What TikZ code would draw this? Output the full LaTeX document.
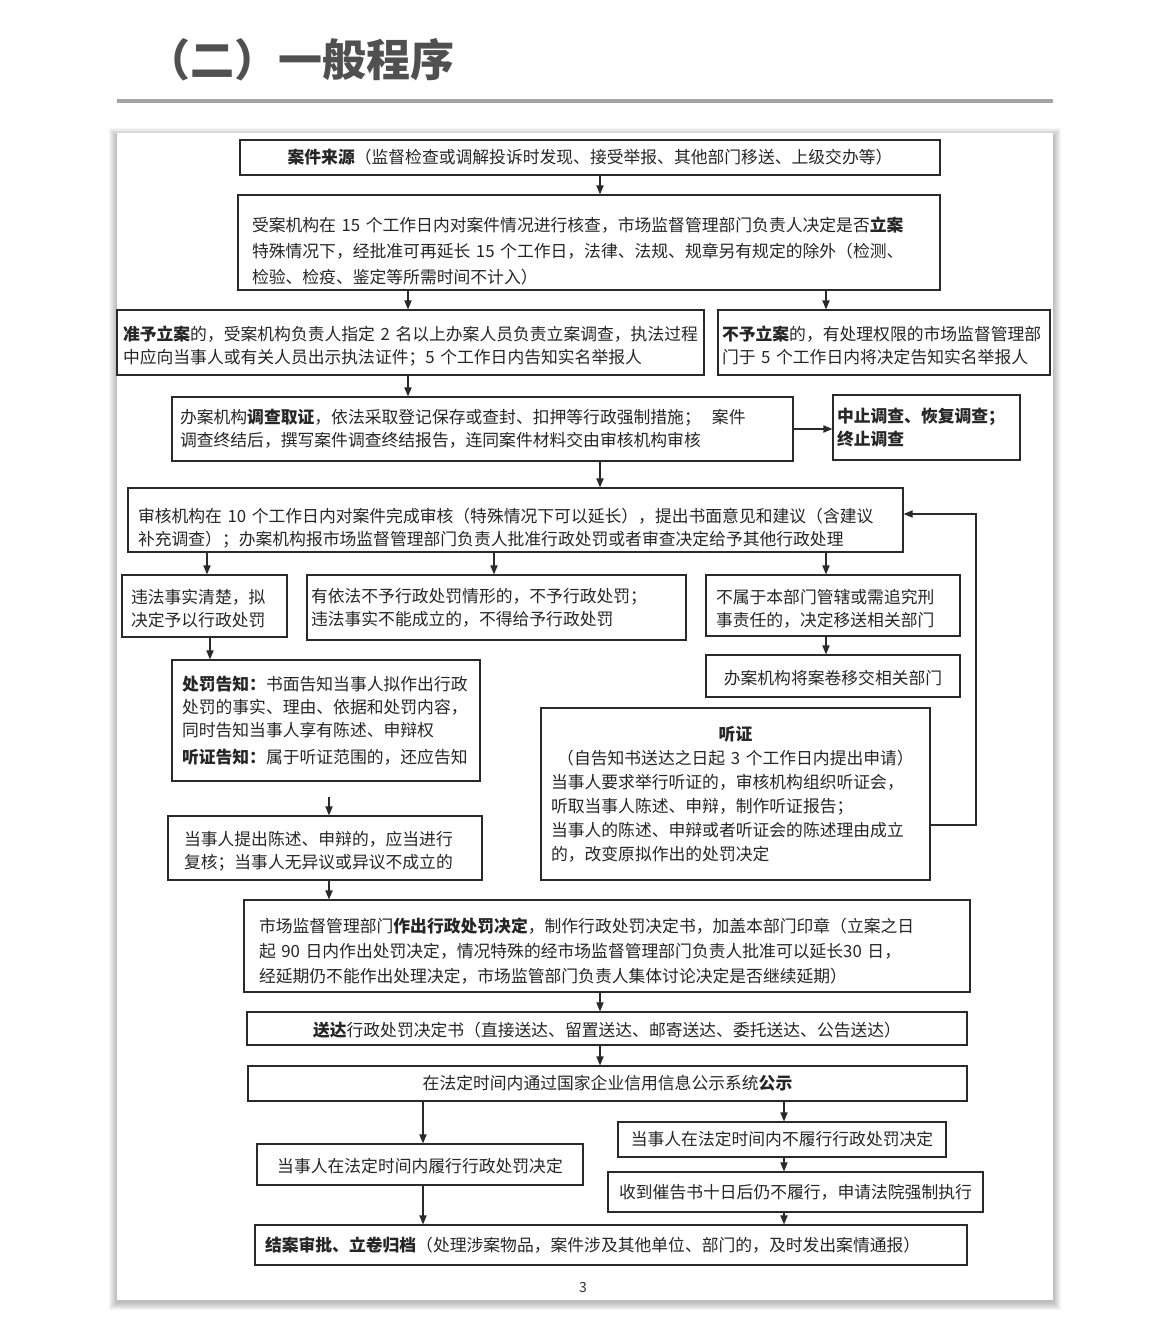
\documentclass[tikz,border=0pt]{standalone}
\usepackage{fontspec}
\setmainfont{Noto Sans CJK SC}
\usetikzlibrary{arrows.meta}
\definecolor{titlegray}{HTML}{505050}
\definecolor{rulegray}{HTML}{A5A5A5}
\definecolor{linegray}{HTML}{2A2A2A}
\tikzset{
  box/.style={draw=linegray, line width=0.6pt, align=left, text=black!85,
    font=\fontsize{8.4}{11.5}\selectfont, inner ysep=2pt},
  arr/.style={draw=linegray, line width=0.6pt, -{Triangle[length=4.5pt,width=3.6pt]}},
}
\begin{document}
\begin{tikzpicture}[x=0.5pt,y=-0.5pt]
  \useasboundingbox (0,0) rectangle (1170,1317);
  % title
  \node[anchor=west, inner sep=0pt, text=titlegray,
    font=\fontsize{22}{22}\selectfont\bfseries] (title) at (146,60) {（二）一般程序};
  \draw[rulegray, line width=1.6pt] (117,101) -- (1053,101);
  % page with shadow
  \foreach \d in {1,...,8}
    \fill[black, opacity=0.035] (117-\d,133-\d+3) rectangle (1053+\d,1300+\d+2);
  \fill[white] (117,133) rectangle (1053,1300);
  \foreach \x in {207,210,329,408,423,494,600,784,826}
    \coordinate (c\x) at (\x,0);

  % boxes
  \node[box, align=center, minimum width=350pt, minimum height=17.5pt] (src) at (590,157.5)
    {\textbf{案件来源}（监督检查或调解投诉时发现、接受举报、其他部门移送、上级交办等）};
  \node[box, text width=337pt, inner xsep=7pt, minimum height=47.5pt,
    font=\fontsize{8.4}{13}\selectfont] (chk) at (589,242.5)
    {\rule{0pt}{15.4pt}受案机构在~15~个工作日内对案件情况进行核查，市场监督管理部门负责人决定是否\textbf{立案}\\
     特殊情况下，经批准可再延长~15~个工作日，法律、法规、规章另有规定的除外（检测、\\
     检验、检疫、鉴定等所需时间不计入）};
  \node[box, text width=287.5pt, inner xsep=3pt, minimum height=32.5pt] (acc) at (410.5,342.5)
    {\rule{0pt}{11pt}\textbf{准予立案}的，受案机构负责人指定~2~名以上办案人员负责立案调查，执法过程\\
     中应向当事人或有关人员出示执法证件；5~个工作日内告知实名举报人};
  \node[box, text width=162pt, inner xsep=2pt, minimum height=32.5pt] (rej) at (884,342.5)
    {\rule{0pt}{10pt}\textbf{不予立案}的，有处理权限的市场监督管理部\\
     门于~5~个工作日内将决定告知实名举报人};
  \node[box, text width=302.5pt, inner xsep=4pt, minimum height=32pt] (inv) at (482.5,429)
    {办案机构\textbf{调查取证}，依法采取登记保存或查封、扣押等行政强制措施；~~案件\\
     调查终结后，撰写案件调查终结报告，连同案件材料交由审核机构审核};
  \node[box, text width=89.5pt, inner xsep=2pt, minimum height=32.5pt] (sus) at (926.5,427.5)
    {\textbf{中止调查、恢复调查；}\\\textbf{终止调查}};
  \node[box, text width=377.5pt, inner xsep=5pt, minimum height=32pt] (rev) at (515.5,520)
    {\rule{0pt}{15pt}审核机构在~10~个工作日内对案件完成审核（特殊情况下可以延长），提出书面意见和建议（含建议\\
     补充调查）；办案机构报市场监督管理部门负责人批准行政处罚或者审查决定给予其他行政处理};
  \node[box, text width=73.5pt, inner xsep=4.5pt, minimum height=31pt] (pen) at (204.5,606)
    {\rule{0pt}{10pt}违法事实清楚，拟\\决定予以行政处罚};
  \node[box, text width=185.5pt, inner xsep=2pt, minimum height=32.5pt] (nop) at (496.5,607.5)
    {有依法不予行政处罚情形的，不予行政处罚；\\
     违法事实不能成立的，不得给予行政处罚};
  \node[box, text width=117pt, inner xsep=5pt, minimum height=30.5pt] (mov) at (833,605.5)
    {\rule{0pt}{10pt}不属于本部门管辖或需追究刑\\事责任的，决定移送相关部门};
  \node[box, align=center, minimum width=127pt, minimum height=21pt] (hand) at (833,676)
    {\rule{0pt}{9pt}办案机构将案卷移交相关部门};
  \node[box, text width=144pt, inner xsep=5pt, minimum height=60.5pt] (ntc) at (326,720.5)
    {\textbf{处罚告知：}书面告知当事人拟作出行政\\
     处罚的事实、理由、依据和处罚内容，\\
     同时告知当事人享有陈述、申辩权\\[2pt]
     \textbf{听证告知：}属于听证范围的，还应告知};
  \node[box, text width=184.5pt, inner xsep=5pt, minimum height=86pt,
    font=\fontsize{8.4}{12}\selectfont] (hear) at (735.5,794)
    {\makebox[\hsize]{\textbf{听证}}\\
     \makebox[\hsize]{（自告知书送达之日起~3~个工作日内提出申请）}\\
     当事人要求举行听证的，审核机构组织听证会，\\
     听取当事人陈述、申辩，制作听证报告；\\
     当事人的陈述、申辩或者听证会的陈述理由成立\\
     的，改变原拟作出的处罚决定};
  \node[box, text width=141pt, inner xsep=8pt, minimum height=32pt] (obj) at (325,848)
    {\rule{0pt}{10pt}当事人提出陈述、申辩的，应当进行\\复核；当事人无异议或异议不成立的};
  \node[box, text width=348pt, inner xsep=7.5pt, minimum height=46pt,
    font=\fontsize{8.4}{12.5}\selectfont] (dec) at (607,946)
    {\rule{0pt}{12pt}市场监督管理部门\textbf{作出行政处罚决定}，制作行政处罚决定书，加盖本部门印章（立案之日\\
     起~90~日内作出处罚决定，情况特殊的经市场监督管理部门负责人批准可以延长30~日，\\
     经延期仍不能作出处理决定，市场监管部门负责人集体讨论决定是否继续延期）};
  \node[box, align=center, minimum width=360pt, minimum height=16.5pt] (del) at (607,1028.5)
    {\rule{0pt}{9pt}\textbf{送达}行政处罚决定书（直接送达、留置送达、邮寄送达、委托送达、公告送达）};
  \node[box, align=center, minimum width=359.5pt, minimum height=17.5pt] (pub) at (607.5,1083.5)
    {在法定时间内通过国家企业信用信息公示系统\textbf{公示}};
  \node[box, align=center, minimum width=163pt, minimum height=20.5pt] (perf) at (420,1164.5)
    {\rule{0pt}{9pt}当事人在法定时间内履行行政处罚决定};
  \node[box, align=center, minimum width=164pt, minimum height=17.5pt] (nperf) at (782,1139.5)
    {当事人在法定时间内不履行行政处罚决定};
  \node[box, align=center, minimum width=187.5pt, minimum height=20pt] (court) at (795.5,1192)
    {收到催告书十日后仍不履行，申请法院强制执行};
  \node[box, text width=346pt, inner xsep=5pt, minimum height=20pt] (fin) at (611,1245)
    {\textbf{结案审批、立卷归档}（处理涉案物品，案件涉及其他单位、部门的，及时发出案情通报）};
  \node[font=\fontsize{7}{7}\selectfont, text=black!80] (pg) at (583,1287) {3};

  % connectors
  \draw[arr] (src.south -| c600) -- (chk.north -| c600);
  \draw[arr] (chk.south -| c408) -- (acc.north -| c408);
  \draw[arr] (chk.south -| c826) -- (rej.north -| c826);
  \draw[arr] (acc.south -| c408) -- (inv.north -| c408);
  \draw[arr] (inv.east) -- (inv.east -| sus.west);
  \draw[arr] (inv.south -| c600) -- (rev.north -| c600);
  \draw[arr] (rev.south -| c207) -- (pen.north -| c207);
  \draw[arr] (rev.south -| c494) -- (nop.north -| c494);
  \draw[arr] (rev.south -| c826) -- (mov.north -| c826);
  \draw[arr] (mov.south -| c826) -- (hand.north -| c826);
  \draw[arr] (pen.south -| c210) -- (ntc.north -| c210);
  \coordinate (nt) at (329,797);
  \draw[arr] (nt) -- (obj.north -| nt);
  \draw[arr] (obj.south -| c329) -- (dec.north -| c329);
  % hearing back to review
  \coordinate (fb1) at (976,825);
  \coordinate (fb2) at (976,514);
  \draw[arr] (fb1 -| hear.east) -- (fb1) -- (fb2) -- (fb2 -| rev.east);
  \draw[arr] (dec.south -| c600) -- (del.north -| c600);
  \draw[arr] (del.south -| c600) -- (pub.north -| c600);
  \draw[arr] (pub.south -| c423) -- (perf.north -| c423);
  \draw[arr] (pub.south -| c784) -- (nperf.north -| c784);
  \draw[arr] (nperf.south -| c784) -- (court.north -| c784);
  \draw[arr] (perf.south -| c423) -- (fin.north -| c423);
  \draw[arr] (court.south -| c784) -- (fin.north -| c784);
\end{tikzpicture}
\end{document}
